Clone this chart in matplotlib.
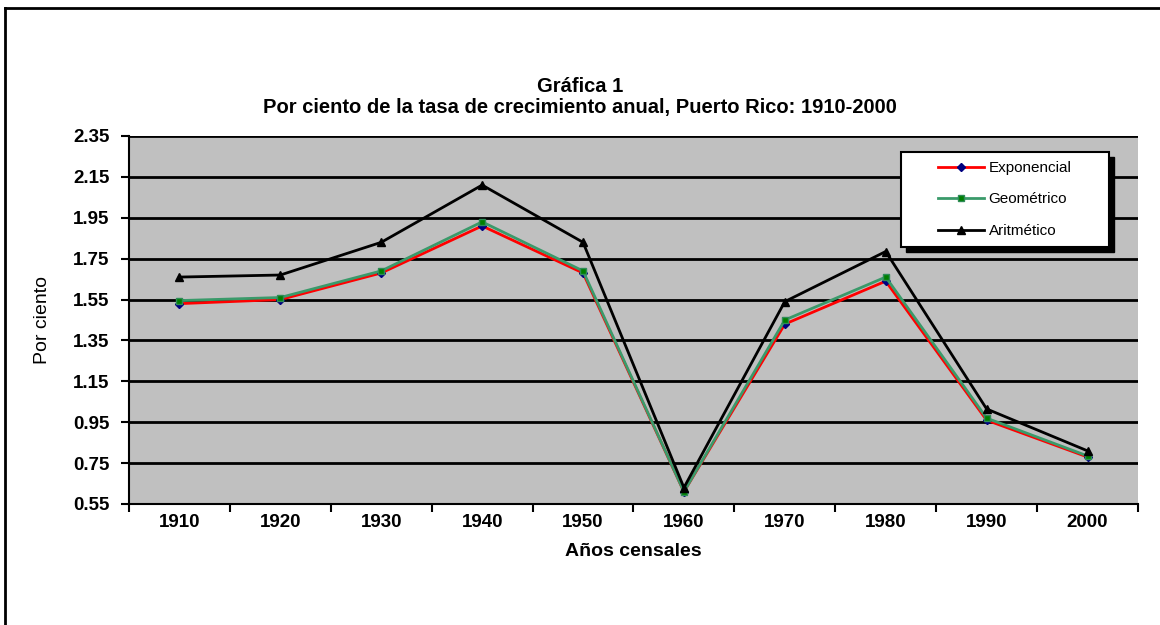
import numpy as np
import matplotlib.pyplot as plt
from matplotlib.patches import Rectangle
from matplotlib.lines import Line2D

plt.rcParams['font.family'] = ['Liberation Sans', 'DejaVu Sans']

# --------------------------
# DATA
# --------------------------
years = ["1910", "1920", "1930", "1940", "1950", "1960", "1970", "1980", "1990", "2000"]
exponencial = [1.53, 1.55, 1.68, 1.91, 1.68, 0.61, 1.43, 1.64, 0.96, 0.78]
geometrico = [1.545, 1.56, 1.69, 1.93, 1.69, 0.61, 1.45, 1.66, 0.97, 0.785]
aritmetico = [1.66, 1.67, 1.83, 2.11, 1.83, 0.63, 1.54, 1.785, 1.015, 0.81]
y_ticks = [0.55, 0.75, 0.95, 1.15, 1.35, 1.55, 1.75, 1.95, 2.15, 2.35]

# --------------------------
# FIGURE
# --------------------------
fig = plt.figure(figsize=(11.6, 6.25), dpi=100)
# outer frame (only left and top edges are visible in the original)
fig.add_artist(Line2D([0.0045, 0.0045], [0, 0.987], transform=fig.transFigure,
                      color="black", linewidth=2))
fig.add_artist(Line2D([0.0045, 1], [0.987, 0.987], transform=fig.transFigure,
                      color="black", linewidth=2))

ax = fig.add_axes([0.1112, 0.1936, 0.8698, 0.5888])
ax.set_facecolor("#c0c0c0")

x = np.arange(1, len(years) + 1)
ax.plot(x, exponencial, color="red", linewidth=2, marker="D", markersize=4.5,
        markerfacecolor="navy", markeredgecolor="navy", label="Exponencial", zorder=3)
ax.plot(x, geometrico, color="#3a9a6a", linewidth=2, marker="s", markersize=5,
        markerfacecolor="green", markeredgecolor="#2e8b57", label="Geométrico", zorder=4)
ax.plot(x, aritmetico, color="black", linewidth=2, marker="^", markersize=5.5,
        label="Aritmético", zorder=5)

ax.set_xlim(0.5, len(years) + 0.5)
ax.set_ylim(0.55, 2.35)
ax.set_yticks(y_ticks)
ax.set_yticklabels([f"{v:.2f}" for v in y_ticks], fontsize=13.5, fontweight="bold")
ax.set_xticks(x)
ax.set_xticklabels(years, fontsize=13.5, fontweight="bold")
ax.tick_params(axis="x", length=0, pad=7)
ax.set_xticks(np.arange(0.5, len(years) + 1), minor=True)
ax.tick_params(axis="x", which="minor", length=6, width=1.5, direction="out")
ax.tick_params(axis="y", length=6, width=1.5, direction="out", pad=8)
ax.grid(axis="y", color="black", linewidth=2)
ax.set_axisbelow(True)
for side in ["top", "right"]:
    ax.spines[side].set_visible(False)
for side in ["left", "bottom"]:
    ax.spines[side].set_linewidth(1.5)

ax.set_xlabel("Años censales", fontsize=14, fontweight="bold", labelpad=9)
ax.set_ylabel("Por ciento", fontsize=14, labelpad=16)

# title, two lines
fig.text(0.5, 1 - 87 / 625, "Gráfica 1", ha="center", va="center",
         fontsize=14.5, fontweight="bold")
fig.text(0.5, 1 - 108 / 625, "Por ciento de la tasa de crecimiento anual, Puerto Rico: 1910-2000",
         ha="center", va="center", fontsize=14.5, fontweight="bold")

# legend box with a solid shadow, drawn as patches
ax.add_patch(Rectangle((0.770, 0.685), 0.206, 0.259, transform=ax.transAxes,
                       facecolor="black", edgecolor="black", zorder=6))
ax.add_patch(Rectangle((0.765, 0.698), 0.206, 0.259, transform=ax.transAxes,
                       facecolor="white", edgecolor="black", linewidth=1.5, zorder=7))
leg = ax.legend(loc="center", bbox_to_anchor=(0.868, 0.8275), fontsize=11,
                frameon=False, labelspacing=1.15, handlelength=3.0,
                handletextpad=0.3, borderaxespad=0)
leg.set_zorder(8)

fig.savefig("out.png", dpi=100)
